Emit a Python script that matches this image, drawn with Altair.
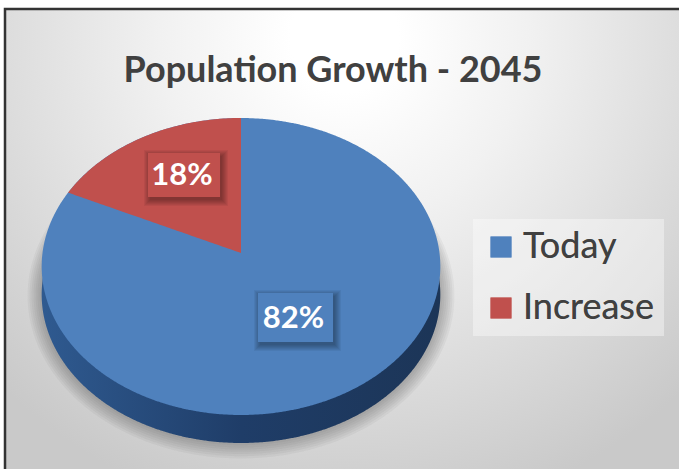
import numpy as np
import pandas as pd
import altair as alt

W, H = 679, 469

# Chart values
categories = ["Today", "Increase"]
shares = [82, 18]
colors = ["#4f81bd", "#c0504d"]
title_text = "Population Growth - 2045"
FONT = "Lato"

# Shared pixel-like scales so every layer lines up
X = alt.Scale(domain=[0, W], range=[0, W], nice=False, zero=False)
Y = alt.Scale(domain=[0, H], range=[0, H], nice=False, zero=False)
xq = lambda f: alt.X(f, type="quantitative", scale=X, axis=None)
yq = lambda f: alt.Y(f, type="quantitative", scale=Y, axis=None)

# Tilted-disc geometry: perspective projection of a unit circle
CX, APEX_Y, TOP_R, BOT_R, HALF_W, DEPTH = 241.0, 253.0, 135.0, 162.0, 198.5, 28.0
K = (BOT_R - TOP_R) / (BOT_R + TOP_R)
SY = TOP_R * (1 + K)


def disc_point(theta, grow=0.0, dx=0.0, dy=0.0):
    u, v = np.sin(theta), np.cos(theta)
    w = 1 + K * v
    return CX + dx + (HALF_W + grow) * u / w, APEX_Y + dy - (SY + grow) * v / w


def disc_table(grow=0.0, dx=0.0, dy=0.0):
    """Upper and lower outline of the disc as x, y, y2 rows."""
    t = np.linspace(0, np.pi, 241)
    xr, yu = disc_point(t, grow, dx, dy)
    xs = np.unique(np.concatenate([xr, 2 * (CX + dx) - xr]))
    # the outline splits into upper and lower runs where x is widest
    i = int(np.argmax(xr))
    top_x, top_y = xr[: i + 1], yu[: i + 1]
    bot_x, bot_y = xr[i:][::-1], yu[i:][::-1]
    off = np.abs(xs - (CX + dx))
    return pd.DataFrame({
        "x": xs,
        "y": np.interp(off, top_x - (CX + dx), top_y),
        "y2": np.interp(off, bot_x - (CX + dx), bot_y),
    })


def area(df, **mark):
    return alt.Chart(df).mark_area(**mark).encode(
        x=xq("x"), y=yq("y"), y2=alt.Y2("y2"))


# Page background and frame
panel = pd.DataFrame({"x": [5], "x2": [W + 5], "y": [9], "y2": [H + 5]})
backdrop = alt.Chart(panel).mark_rect(
    color=alt.Gradient(
        gradient="radial", x1=0.5, y1=0.2, x2=0.5, y2=0.2, r1=0.08, r2=0.72,
        stops=[alt.GradientStop(color="#ffffff", offset=0),
               alt.GradientStop(color="#f1f1f1", offset=0.3),
               alt.GradientStop(color="#c9c9c9", offset=1)]),
    stroke="#333333", strokeWidth=2.5,
).encode(x=xq("x"), x2="x2", y=yq("y"), y2="y2")

# Soft shadow below the disc, built from stacked translucent outlines
shadow_layers = [
    area(disc_table(grow=g, dy=DEPTH), color="#444444", opacity=0.05)
    for g in [14, 12, 10, 8, 6, 4, 2, 0]
]

# Side wall of the disc
wall = area(
    disc_table(dy=DEPTH),
    color=alt.Gradient(
        gradient="linear", x1=0, y1=0, x2=1, y2=0,
        stops=[alt.GradientStop(color="#2f5a90", offset=0),
               alt.GradientStop(color="#1f3d68", offset=0.5),
               alt.GradientStop(color="#1c3557", offset=1)]),
)

# Top face: the whole disc in the first colour, the second share on top of it
face_df = disc_table().assign(category=categories[0])
wedge_angle = 2 * np.pi * shares[1] / sum(shares)
arc_t = np.linspace(-wedge_angle, 0, 80)
arc_x, arc_y = disc_point(arc_t)
edge_y = np.interp(arc_x, [arc_x[0], CX], [arc_y[0], APEX_Y])
wedge_df = pd.DataFrame(
    {"x": arc_x, "y": arc_y, "y2": edge_y, "category": categories[1]})

color_enc = alt.Color(
    "category:N",
    scale=alt.Scale(domain=categories, range=colors),
    legend=alt.Legend(
        title=None, orient="none", legendX=473, legendY=219,
        fillColor="rgba(255,255,255,0.22)", padding=10,
        symbolType="square", symbolSize=440, symbolStrokeWidth=0,
        symbolOpacity=1, labelFontSize=36, labelFont=FONT,
        labelColor="#404040", labelOffset=4, rowPadding=25, labelLimit=300),
)
faces = [
    alt.Chart(d).mark_area(opacity=1).encode(
        x=xq("x"), y=yq("y"), y2=alt.Y2("y2"), color=color_enc)
    for d in (face_df, wedge_df)
]

# Data labels: boxed value with a soft drop shadow
boxes = pd.DataFrame({
    "label": [f"{v}%" for v in shares],
    "fill": colors,
    "x": [258, 148], "x2": [333, 220],
    "y": [293, 153], "y2": [342, 197],
})
box_shadow = [
    alt.Chart(boxes.assign(
        x=boxes.x + 2 - g, x2=boxes.x2 + 2 + g,
        y=boxes.y + 3 - g, y2=boxes.y2 + 3 + g,
    )).mark_rect(color="#000000", opacity=0.05).encode(
        x=xq("x"), x2="x2", y=yq("y"), y2="y2")
    for g in [6, 5, 4, 3, 2, 1, 0]
]
box = alt.Chart(boxes).mark_rect().encode(
    x=xq("x"), x2="x2", y=yq("y"), y2="y2",
    color=alt.Color("fill:N", scale=None))
box_text = alt.Chart(boxes.assign(
    tx=(boxes.x + boxes.x2) / 2 - 2, ty=(boxes.y + boxes.y2) / 2 + 1
)).mark_text(
    font=FONT, fontWeight="bold", fontSize=31, color="white",
).encode(x=xq("tx"), y=yq("ty"), text="label:N")

heading = alt.Chart(pd.DataFrame({"x": [333], "y": [71], "t": [title_text]})).mark_text(
    font=FONT, fontWeight="bold", fontSize=36, color="#404040",
).encode(x=xq("x"), y=yq("y"), text="t:N")

chart = alt.layer(
    backdrop, *shadow_layers, wall, *faces, *box_shadow, box, box_text, heading
).resolve_scale(color="independent").properties(
    width=W, height=H, padding=0, background="white",
    autosize=alt.AutoSizeParams(type="none"),
).configure_view(stroke=None, clip=True)

chart.save("out.html", embed_options={"renderer": "svg", "actions": False})
